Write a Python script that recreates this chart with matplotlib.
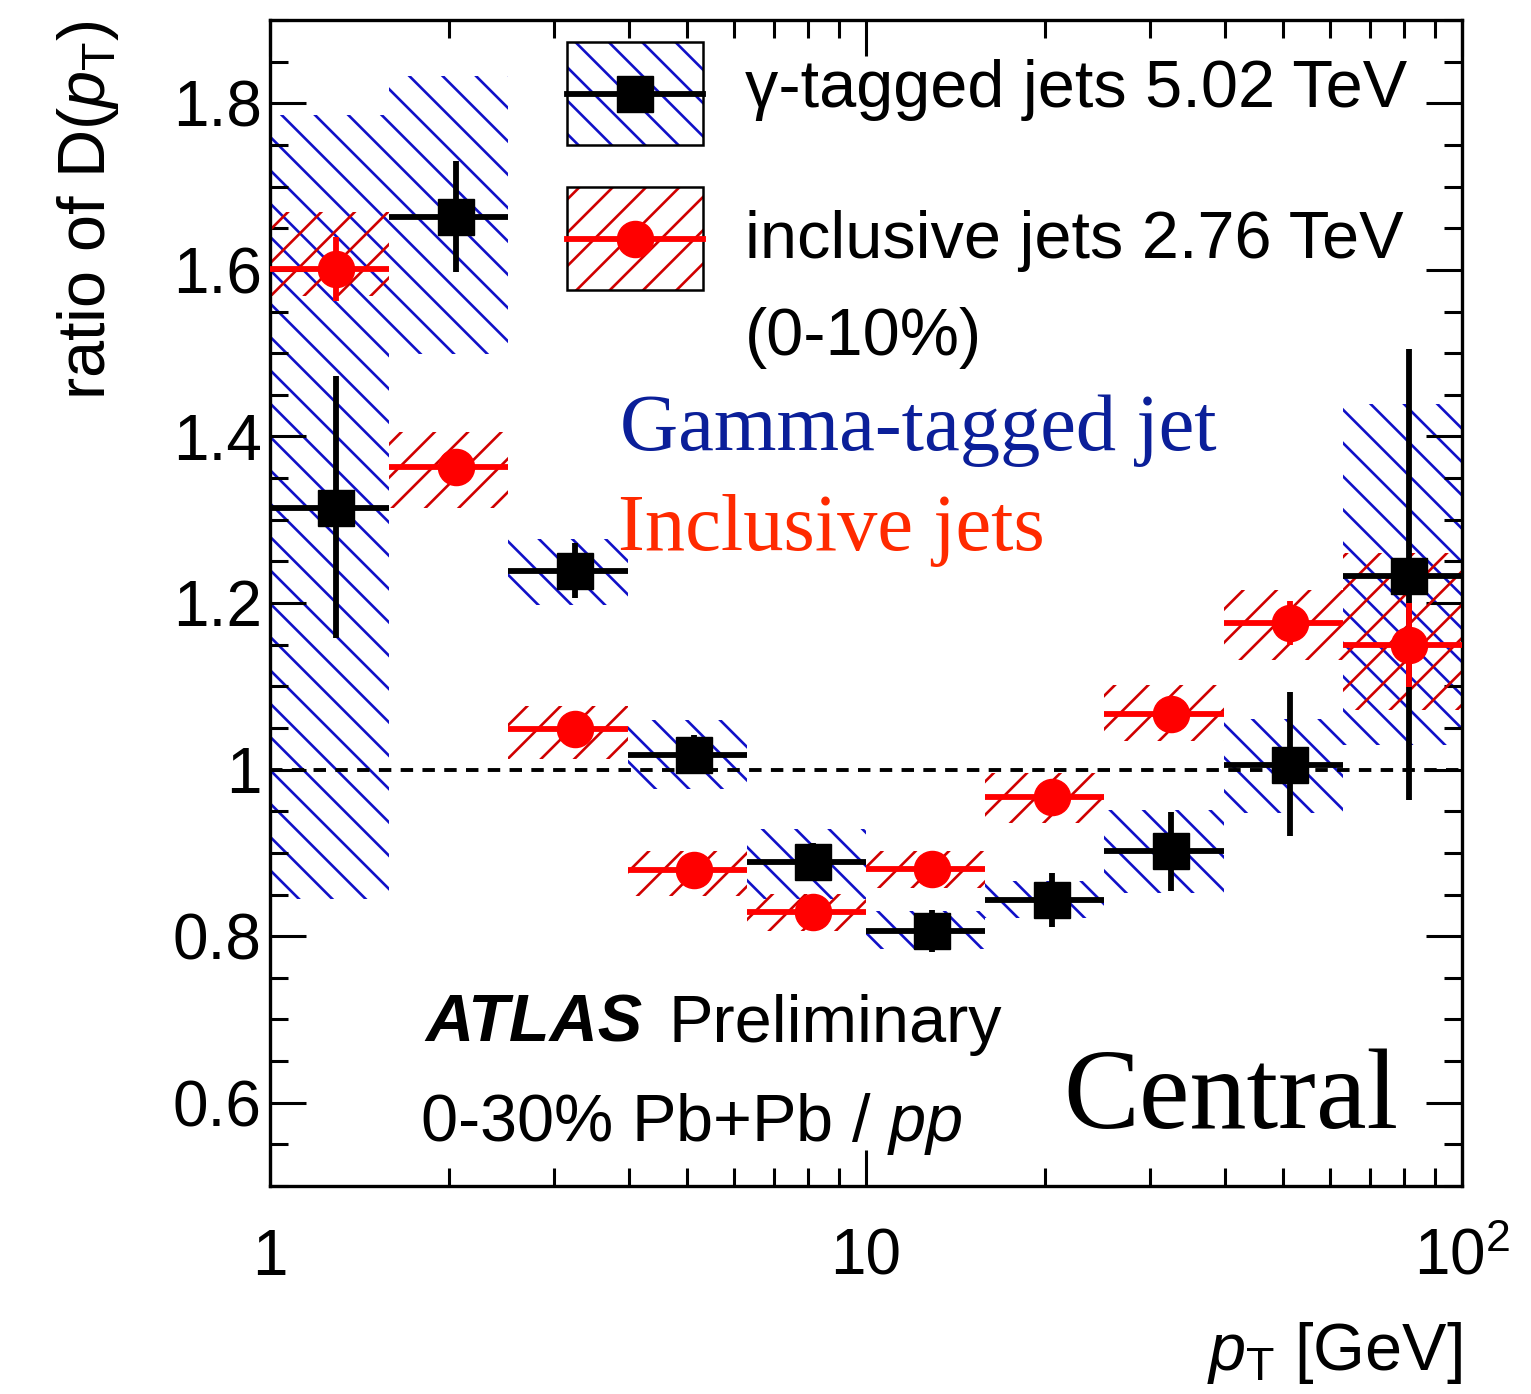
import matplotlib
matplotlib.use("Agg")
import matplotlib.pyplot as plt
import numpy as np
from matplotlib.patches import Rectangle
from matplotlib.lines import Line2D
from matplotlib.ticker import FixedLocator, FuncFormatter, MultipleLocator

# bin edges in pT [GeV]
edges = [1.0, 1.585, 2.512, 3.981, 6.310, 10.0, 15.85, 25.12, 39.81, 63.10, 100.0]

# gamma-tagged jets 5.02 TeV
g_val = [1.314, 1.664, 1.239, 1.017, 0.889, 0.806, 0.843, 0.902, 1.006, 1.233]
g_stat_lo = [1.158, 1.598, 1.206, 0.995, 0.866, 0.781, 0.811, 0.854, 0.920, 0.963]
g_stat_hi = [1.473, 1.731, 1.272, 1.041, 0.912, 0.831, 0.876, 0.949, 1.093, 1.505]
g_sys_lo = [0.845, 1.499, 1.197, 0.977, 0.845, 0.784, 0.822, 0.852, 0.948, 1.029]
g_sys_hi = [1.786, 1.833, 1.277, 1.059, 0.929, 0.830, 0.866, 0.951, 1.061, 1.439]

# inclusive jets 2.76 TeV
r_val = [1.601, 1.363, 1.049, 0.880, 0.829, 0.881, 0.967, 1.067, 1.176, 1.149]
r_stat_lo = [1.563, 1.350, 1.036, 0.867, 0.816, 0.868, 0.954, 1.054, 1.150, 1.099]
r_stat_hi = [1.640, 1.376, 1.062, 0.893, 0.842, 0.894, 0.980, 1.080, 1.202, 1.200]
r_sys_lo = [1.569, 1.314, 1.013, 0.848, 0.806, 0.858, 0.936, 1.034, 1.131, 1.071]
r_sys_hi = [1.670, 1.405, 1.076, 0.902, 0.851, 0.902, 0.996, 1.101, 1.216, 1.260]

SANS = "Liberation Sans"
SERIF = "Liberation Serif"
plt.rcParams["font.family"] = [SANS, "DejaVu Sans"]
plt.rcParams["mathtext.fontset"] = "custom"
plt.rcParams["mathtext.rm"] = SANS
plt.rcParams["mathtext.it"] = SANS + ":italic"
plt.rcParams["hatch.linewidth"] = 1.9

BLUE_H = "#1010c8"
RED_H = "#d00000"
RED = "#ff0000"
LW = 4.2

lo = np.array(edges[:-1])
hi = np.array(edges[1:])
cen = (lo + hi) / 2
xerr = [cen - lo, hi - cen]

fig = plt.figure(figsize=(15.31, 13.94), dpi=100)
ax = fig.add_axes([270 / 1531, 1 - 1186 / 1394, 1192 / 1531, 1166 / 1394])

# systematic boxes
g_lo = np.array(g_sys_lo); g_hi = np.array(g_sys_hi)
r_lo = np.array(r_sys_lo); r_hi = np.array(r_sys_hi)
ax.bar(lo, g_hi - g_lo, width=hi - lo, bottom=g_lo, align="edge",
       facecolor="none", edgecolor=BLUE_H, linewidth=0, hatch="\\", zorder=1)
ax.bar(lo, r_hi - r_lo, width=hi - lo, bottom=r_lo, align="edge",
       facecolor="none", edgecolor=RED_H, linewidth=0, hatch="/", zorder=2)

ax.axhline(1.0, color="black", lw=2.8, ls=(0, (3.2, 2.4)), zorder=3)

gv = np.array(g_val)
rv = np.array(r_val)
ax.errorbar(cen, gv, xerr=xerr, yerr=[gv - g_stat_lo, np.array(g_stat_hi) - gv],
            fmt="s", color="black", ms=26, elinewidth=LW, capsize=0, zorder=4)
ax.errorbar(cen, rv, xerr=xerr, yerr=[rv - r_stat_lo, np.array(r_stat_hi) - rv],
            fmt="o", color=RED, ms=26, elinewidth=LW, capsize=0, zorder=5)

ax.set_xscale("log")
ax.set_xlim(1, 100)
ax.set_ylim(0.5, 1.9)

ax.xaxis.set_major_locator(FixedLocator([1, 10, 100]))
ax.xaxis.set_major_formatter(FuncFormatter(
    lambda v, p: {1: "1", 10: "10", 100: r"$10^{2}$"}.get(int(round(v)), "")))
ax.yaxis.set_major_locator(MultipleLocator(0.2))
ax.yaxis.set_minor_locator(MultipleLocator(0.05))
ax.yaxis.set_major_formatter(FuncFormatter(lambda v, p: f"{v:g}"))

ax.tick_params(which="both", direction="in", top=True, right=True, width=2.2,
               labelsize=46)
ax.tick_params(which="major", length=26)
ax.tick_params(which="minor", length=13)
ax.tick_params(axis="x", which="both", pad=30)
ax.tick_params(axis="y", which="both", pad=6)
for s in ax.spines.values():
    s.set_linewidth(2.4)

ax.set_ylabel(r"ratio of D($p_{\mathrm{T}}$)", fontsize=48, loc="top")
ax.yaxis.set_label_coords(-0.125, 1.0)
ax.set_xlabel(r"$p_{\mathrm{T}}$ [GeV]", fontsize=48, loc="right")
ax.xaxis.set_label_coords(1.0, -0.115)

# legend drawn by hand
def fx(px):
    return (px - 270) / 1192

def fy(py):
    return (1186 - py) / 1166

for (y0, y1, col, hatch, mk, mcol) in [
    (145, 42, BLUE_H, "\\", "s", "black"),
    (290, 187, RED_H, "/", "o", RED),
]:
    ax.add_patch(Rectangle((fx(567), fy(y0)), fx(703) - fx(567), fy(y1) - fy(y0),
                           transform=ax.transAxes, facecolor="white", edgecolor=col,
                           linewidth=0, hatch=hatch, zorder=6))
    ax.add_patch(Rectangle((fx(567), fy(y0)), fx(703) - fx(567), fy(y1) - fy(y0),
                           transform=ax.transAxes, facecolor="none", edgecolor="black",
                           linewidth=1.8, zorder=7))
    ym = (fy(y0) + fy(y1)) / 2
    ax.add_line(Line2D([fx(567), fx(703)], [ym, ym], transform=ax.transAxes,
                       color=mcol, lw=LW, zorder=8))
    ax.add_line(Line2D([(fx(567) + fx(703)) / 2], [ym], transform=ax.transAxes,
                       marker=mk, ms=26, color=mcol, lw=0, zorder=9))
ax.text(fx(745), fy(107), "γ-tagged jets 5.02 TeV", transform=ax.transAxes,
        fontsize=48, va="baseline", zorder=10)
ax.text(fx(745), fy(258), "inclusive jets 2.76 TeV", transform=ax.transAxes,
        fontsize=48, va="baseline", zorder=10)
ax.text(fx(745), fy(355), "(0-10%)", transform=ax.transAxes,
        fontsize=48, va="baseline", zorder=10)

ax.text(fx(620), fy(450), "Gamma-tagged jet", transform=ax.transAxes,
        fontsize=58, family=SERIF, color="#0b1f99", va="baseline")
ax.text(fx(618), fy(550), "Inclusive jets", transform=ax.transAxes,
        fontsize=58, family=SERIF, color="#ff2a00", va="baseline")

ax.text(fx(425), fy(1042), "ATLAS", transform=ax.transAxes, fontsize=48,
        fontweight="bold", fontstyle="italic", va="baseline")
ax.text(fx(668), fy(1042), "Preliminary", transform=ax.transAxes, fontsize=48,
        va="baseline")
ax.text(fx(420), fy(1141), r"0-30% Pb+Pb / $pp$", transform=ax.transAxes,
        fontsize=48, va="baseline")
ax.text(fx(1398), fy(1128), "Central", transform=ax.transAxes, fontsize=82,
        family=SERIF, ha="right", va="baseline")

fig.savefig("out.png", dpi=100)
